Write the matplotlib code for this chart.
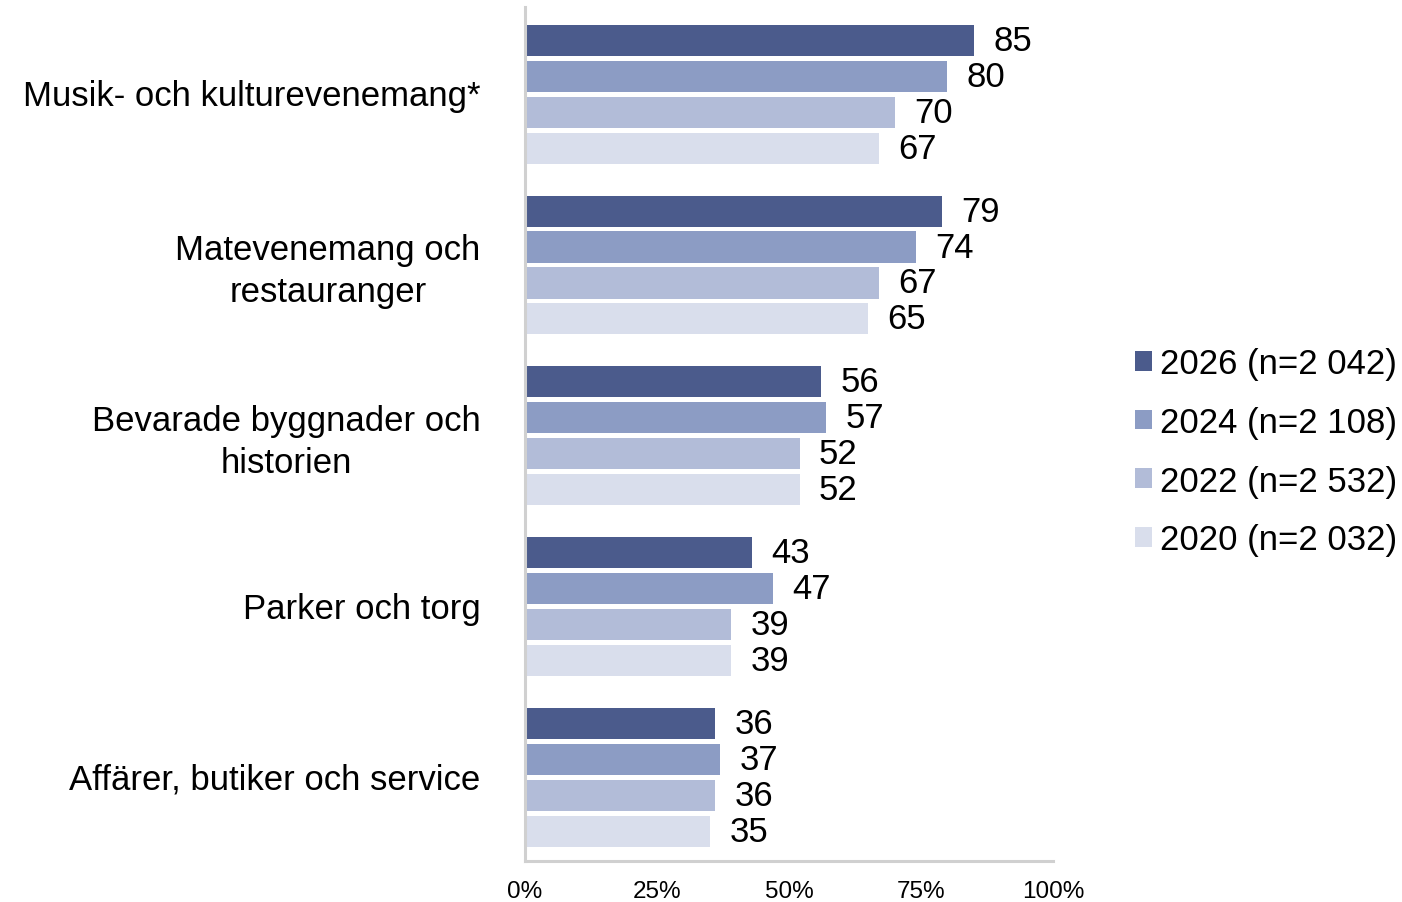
import matplotlib.pyplot as plt
import numpy as np

plt.rcParams["font.family"] = ["Liberation Sans", "DejaVu Sans"]

categories = [
    "Musik- och kulturevenemang*",
    "Matevenemang och\nrestauranger",
    "Bevarade byggnader och\nhistorien",
    "Parker och torg",
    "Affärer, butiker och service",
]
series_labels = ["2026 (n=2 042)", "2024 (n=2 108)", "2022 (n=2 532)", "2020 (n=2 032)"]
values_2026 = [85, 79, 56, 43, 36]
values_2024 = [80, 74, 57, 47, 37]
values_2022 = [70, 67, 52, 39, 36]
values_2020 = [67, 65, 52, 39, 35]
tick_values = [0, 25, 50, 75, 100]

colors = ["#4b5b8c", "#8c9cc4", "#b2bcd8", "#d9deec"]
all_values = [values_2026, values_2024, values_2022, values_2020]

fig = plt.figure(figsize=(14.02, 9.03), dpi=100)
ax = fig.add_axes([0.3745, 0.0455, 0.3765, 0.946])

y = np.arange(len(categories))
step = 0.2105
height = 0.182

for i, (vals, col, lab) in enumerate(zip(all_values, colors, series_labels)):
    pos = y + (i - 1.5) * step + 0.012
    ax.barh(pos, vals, height=height, color=col, label=lab)
    for p, v in zip(pos, vals):
        ax.annotate(str(v), (v, p), xytext=(14, 0), textcoords="offset points",
                    va="center", ha="left", fontsize=25)

ax.set_ylim(len(categories) - 0.5, -0.5)
ax.set_xlim(0, 100)
ax.set_yticks(y)
ax.set_yticklabels(categories, fontsize=25, multialignment="center", linespacing=1.33)
ax.set_xticks(tick_values)
ax.set_xticklabels([f"{t}%" for t in tick_values], fontsize=17.5)
ax.tick_params(axis="y", length=0, pad=32)
ax.tick_params(axis="x", length=0, pad=14)

for side in ["top", "right"]:
    ax.spines[side].set_visible(False)
for side in ["left", "bottom"]:
    ax.spines[side].set_color("#d0d0d0")
    ax.spines[side].set_linewidth(2.2)

ax.legend(loc="center left", bbox_to_anchor=(1.155, 0.479), frameon=False,
          fontsize=25, handlelength=0.5, handleheight=0.5, handletextpad=0.23,
          labelspacing=0.74, borderaxespad=0, borderpad=0)

fig.savefig("out.png", dpi=100)
